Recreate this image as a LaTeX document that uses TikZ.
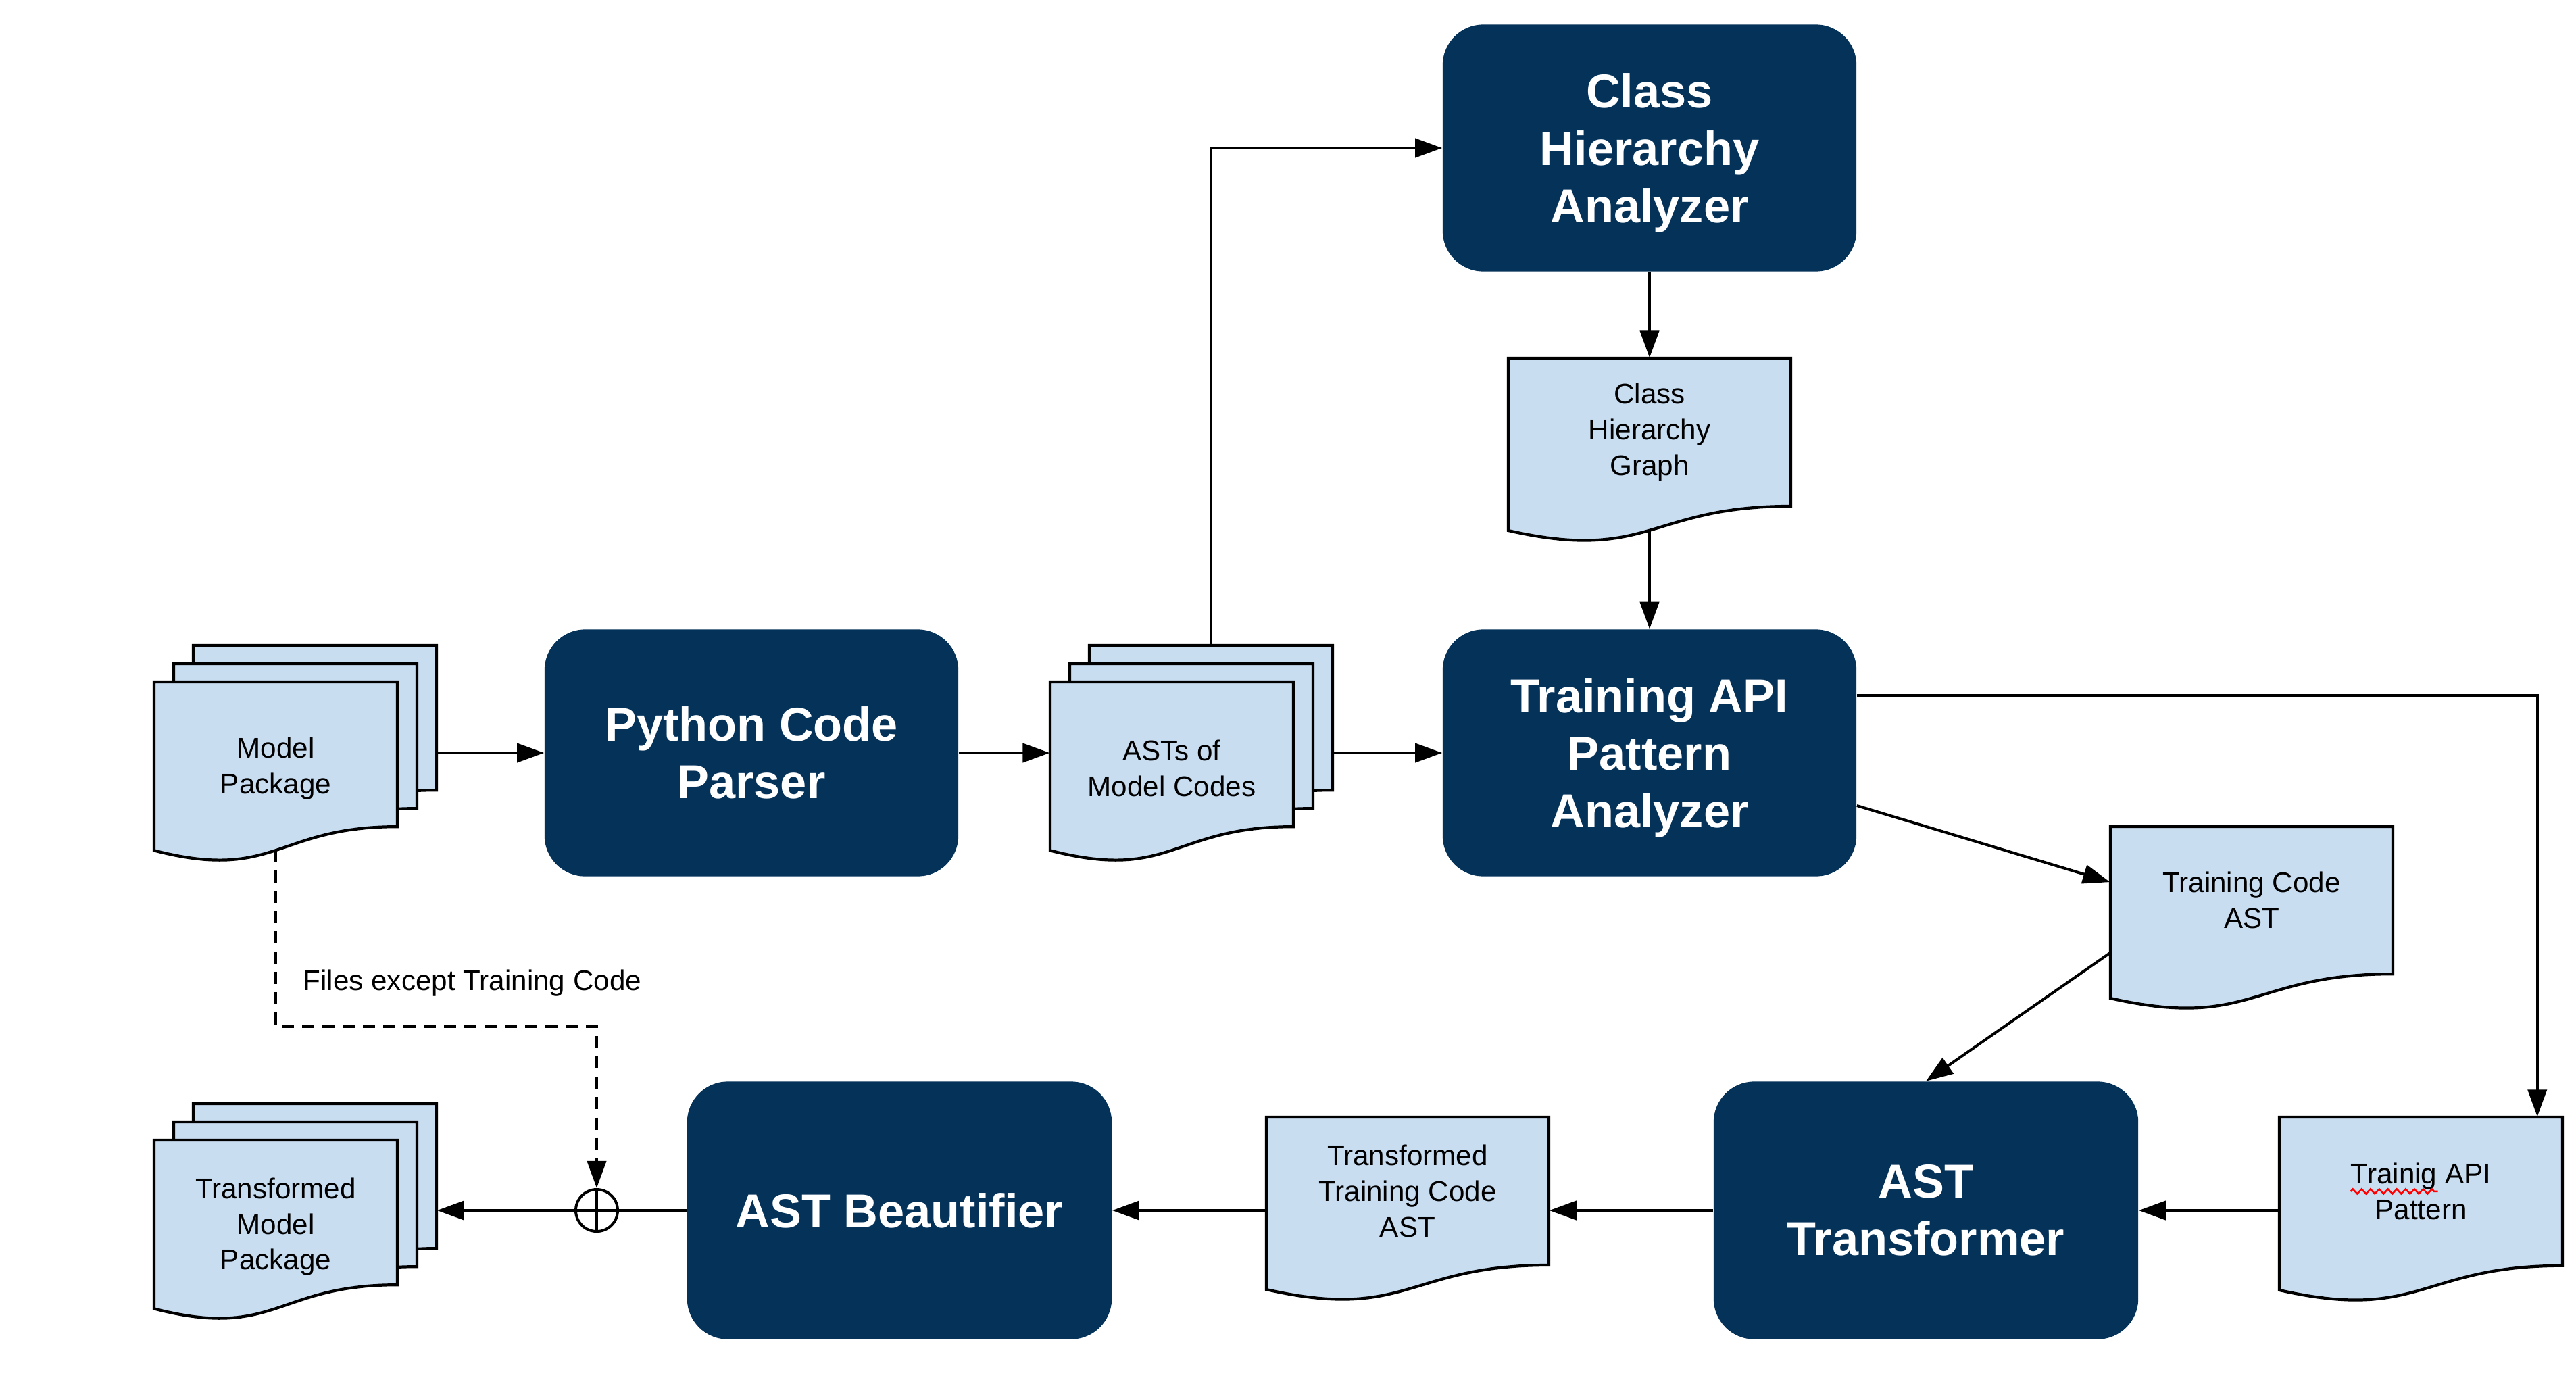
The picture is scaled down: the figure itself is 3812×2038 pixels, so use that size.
\documentclass[tikz,border=0pt]{standalone}
\usepackage{fontspec}
\setmainfont{Liberation Sans}
\usetikzlibrary{arrows.meta,calc,decorations.pathmorphing}
\definecolor{navy}{HTML}{053259}
\definecolor{paper}{HTML}{C9DDF1}
\newcommand\lift{\rule{0pt}{18.6pt}}
\tikzset{
  proc/.style={rectangle, rounded corners=0.6cm, fill=navy, text=white,
    font=\bfseries\fontsize{20}{24.2}\selectfont, align=center, inner sep=0pt},
  procA/.style={proc, minimum width=6.12cm, minimum height=3.65cm},
  procB/.style={proc, minimum width=6.28cm, minimum height=3.81cm},
  doctext/.style={rectangle, inner sep=0pt, align=center, font=\fontsize{12}{15}\selectfont},
  docsheet/.style={fill=paper, draw=black, line width=1.2pt, line join=miter},
  conn/.style={line width=1.14pt, -{Triangle[length=0.4cm,width=0.28cm]}},
  plainline/.style={line width=1.14pt},
  dashconn/.style={conn, dash pattern=on 0.18cm off 0.12cm},
}
\newcommand\mkdoc[7]{%
  \path[docsheet] (#2,#3) -- ({#2+#4},#3) -- ({#2+#4},{#3+0.802*#5})
    .. controls ({#2+0.5*#4},{#3+0.802*#5}) and ({#2+0.5*#4},{#3+1.1075*#5}) .. (#2,{#3+0.934*#5}) -- cycle;
  \node[doctext, minimum width={#4*0.01cm}, minimum height={2*#6*#5*0.01cm}] (#1) at ({#2+0.5*#4},{#3+#6*#5}) {#7};
}
\newcommand\mkmulti[6]{%
  \mkdoc{#1c}{#2+58}{#3-54}{#4}{#5}{0.401}{}
  \mkdoc{#1b}{#2+29}{#3-27}{#4}{#5}{0.401}{}
  \mkdoc{#1}{#2}{#3}{#4}{#5}{0.48}{#6}
}
\begin{document}
\begin{tikzpicture}[x=0.01cm,y=-0.01cm]
\useasboundingbox (0,0) rectangle (3812,2038);
% process boxes
\node[procA] (parser) at (1112,1114) {Python Code\\Parser};
\node[procA] (cha) at (2441,219) {\lift Class\\Hierarchy\\Analyzer};
\node[procA] (tapa) at (2441,1114) {\lift Training API\\Pattern\\Analyzer};
\node[procB] (astt) at (2850,1791) {AST\\Transformer};
\node[procB] (astb) at (1331,1791) {AST Beautifier};
% documents
\mkmulti{mp}{228}{1009}{360}{267}{Model\\Package}
\mkmulti{asts}{1554}{1009}{360}{267}{ASTs of\\Model Codes}
\mkmulti{tmp}{228}{1687}{360}{267}{Transformed\\Model\\Package}
\mkdoc{chg}{2232}{530}{418}{273}{0.401}{Class\\Hierarchy\\Graph}
\mkdoc{tca}{3123}{1223}{418}{272}{0.401}{Training Code\\AST}
\mkdoc{tap}{3373}{1653}{419}{274}{0.401}{Trainig API\\Pattern}
\mkdoc{ttca}{1874}{1653}{418}{273}{0.401}{Transformed\\Training Code\\AST}
% spell-check squiggle
\draw[red, line width=0.7pt, decorate, decoration={zigzag, segment length=0.13cm, amplitude=0.035cm}]
  ($(tap.center)+(-104,0)$) -- ($(tap.center)+(25,0)$);
% merge symbol
\node[circle, draw, line width=1.14pt, minimum size=0.62cm, inner sep=0pt,
  path picture={\draw[line width=1.14pt] (path picture bounding box.north) -- (path picture bounding box.south)
    (path picture bounding box.west) -- (path picture bounding box.east);}] (oplus) at (883,1791) {};
% helper coordinates
\coordinate (mpb) at (408,1258);
\coordinate (chgb) at (2441,786);
\coordinate (dk) at (883,1519);
% connectors
\draw[conn] (mpc.east |- parser.west) -- (parser.west);
\draw[conn] (parser.east) -- (asts.west |- parser.east);
\draw[conn] (astsc.east |- tapa.west) -- (tapa.west);
\draw[conn] (astsc.north) |- (cha.west);
\draw[conn] (cha.south) -- (chg.north);
\draw[conn] (chgb) -- (tapa.north);
\draw[conn] ($(tapa.east)+(0,-85)$) -| ($(tap.north east)+(-38,0)$);
\draw[conn] ($(tapa.east)+(0,78)$) -- ($(tca.west)+(0,-27)$);
\draw[conn] ($(tca.west)+(0,78)$) -- (astt.north);
\draw[conn] (tap.west |- astt.east) -- (astt.east);
\draw[conn] (astt.west) -- (ttca.east |- astt.west);
\draw[conn] (ttca.west |- astb.east) -- (astb.east);
\draw[plainline] (astb.west) -- (oplus.east);
\draw[conn] (oplus.west) -- (tmpc.east |- oplus.west);
\draw[dashconn] (mpb) |- (dk) -- (oplus.north);
\node[anchor=west, inner sep=0pt, font=\fontsize{12}{15}\selectfont] (lbl) at (448,1455) {Files except Training Code};
\end{tikzpicture}
\end{document}
